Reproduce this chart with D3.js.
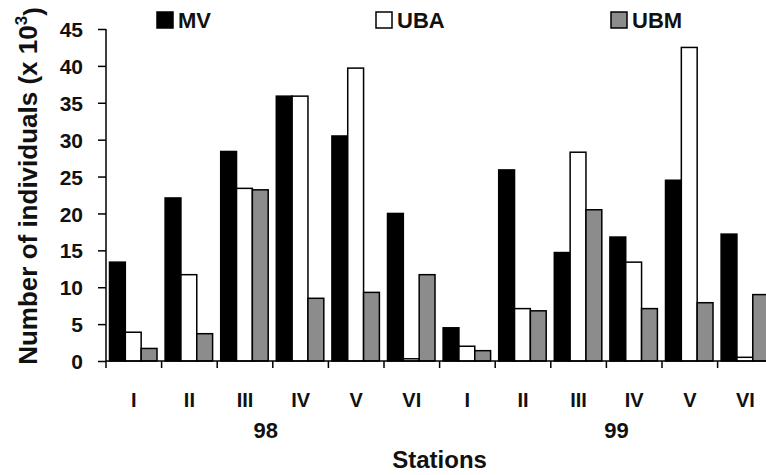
<!DOCTYPE html>
<html>
<head>
<meta charset="utf-8">
<script src="https://cdn.jsdelivr.net/npm/d3@7.9.0/dist/d3.min.js"></script>
<style>
  body { margin: 0; background: #fff; }
  svg { display: block; font-family: "Liberation Sans", Arial, sans-serif; font-weight: bold; }
</style>
</head>
<body>
<div id="chart"></div>
<script>
const stations = ['I', 'II', 'III', 'IV', 'V', 'VI'];
const years = ['98', '99'];
const series = ['MV', 'UBA', 'UBM'];
const mvValues = [13.4, 22.1, 28.4, 35.9, 30.5, 20.0, 4.5, 25.9, 14.7, 16.8, 24.5, 17.2];
const ubaValues = [3.9, 11.7, 23.4, 35.9, 39.7, 0.3, 2.0, 7.1, 28.3, 13.4, 42.5, 0.5];
const ubmValues = [1.7, 3.7, 23.2, 8.5, 9.3, 11.7, 1.4, 6.8, 20.5, 7.1, 7.9, 9.0];
const yTicks = [0, 5, 10, 15, 20, 25, 30, 35, 40, 45];

const colors = { MV: '#000', UBA: '#fff', UBM: '#8c8c8c' };

const width = 766;
const height = 475;

// one group per station and year
const groups = years.flatMap((yr) => stations.map((s) => ({ key: yr + '-' + s, station: s, year: yr })));
groups.forEach((g, i) => {
  g.MV = mvValues[i];
  g.UBA = ubaValues[i];
  g.UBM = ubmValues[i];
});

const svg = d3.select('#chart')
  .append('svg')
  .attr('width', width)
  .attr('height', height);

// the original figure is wider than the picture, right side is cut off
const xScale = d3.scaleBand()
  .domain(groups.map((d) => d.key))
  .range([106, 106 + 12 * 55.6])
  .padding(0);

const xInner = d3.scaleBand()
  .domain(series)
  .range([3.5, 51]);

const yScale = d3.scaleLinear().domain([0, 45]).range([361, 29]);

const bars = svg.append('g').attr('class', 'bars');
bars.selectAll('g')
  .data(groups)
  .join('g')
  .attr('transform', (d) => `translate(${xScale(d.key)},0)`)
  .selectAll('rect')
  .data((d) => series.map((s) => ({ series: s, value: d[s] })))
  .join('rect')
  .attr('x', (d) => xInner(d.series))
  .attr('width', xInner.bandwidth())
  .attr('y', (d) => yScale(d.value))
  .attr('height', (d) => yScale(0) - yScale(d.value))
  .attr('fill', (d) => colors[d.series])
  .attr('stroke', '#000')
  .attr('stroke-width', 1.5);

// y axis
const yAxis = svg.append('g')
  .attr('transform', `translate(${xScale.range()[0]},0)`)
  .call(d3.axisLeft(yScale).tickValues(yTicks).tickSize(8).tickPadding(15));
yAxis.select('.domain').attr('stroke-width', 1.5).attr('d', `M-0,${yScale(45)}V${yScale(0)}`);
yAxis.selectAll('.tick line').attr('stroke-width', 1.5);
yAxis.selectAll('.tick text')
  .style('font-size', '21px')
  .attr('fill', '#111')
  .attr('dy', '0.36em');

// x axis: ticks at group boundaries
const xAxisG = svg.append('g').attr('transform', `translate(0,${yScale(0)})`);
xAxisG.append('line')
  .attr('x1', xScale.range()[0])
  .attr('x2', xScale.range()[1])
  .attr('stroke', '#000')
  .attr('stroke-width', 1.5);
xAxisG.selectAll('.xtick')
  .data(groups)
  .join('line')
  .attr('class', 'xtick')
  .attr('x1', (d) => xScale(d.key))
  .attr('x2', (d) => xScale(d.key))
  .attr('y1', 0)
  .attr('y2', 7)
  .attr('stroke', '#000')
  .attr('stroke-width', 1.5);

svg.append('g')
  .selectAll('text')
  .data(groups)
  .join('text')
  .attr('x', (d) => xScale(d.key) + xScale.bandwidth() / 2)
  .attr('y', 407)
  .attr('text-anchor', 'middle')
  .style('font-size', '20px')
  .attr('fill', '#111')
  .text((d) => d.station);

// year labels
const yearPos = [xScale(groups[3].key) - 7, xScale(groups[9].key) + 10];
svg.append('g')
  .selectAll('text')
  .data(years)
  .join('text')
  .attr('x', (d, i) => yearPos[i])
  .attr('y', 438)
  .attr('text-anchor', 'middle')
  .style('font-size', '22px')
  .attr('fill', '#111')
  .text((d) => d);

svg.append('text')
  .attr('x', (xScale.range()[0] + xScale.range()[1]) / 2)
  .attr('y', 468)
  .attr('text-anchor', 'middle')
  .style('font-size', '24px')
  .attr('fill', '#111')
  .text('Stations');

// y title
const yTitle = svg.append('text')
  .attr('transform', 'translate(37,186) rotate(-90)')
  .attr('text-anchor', 'middle')
  .style('font-size', '26px')
  .attr('fill', '#111');
yTitle.append('tspan').text('Number of individuals (x 10');
yTitle.append('tspan').attr('dy', '-0.6em').style('font-size', '17px').text('3');
yTitle.append('tspan').attr('dy', '0.6em').text(')');

// legend
const legendX = [157, 376, 611];
const legend = svg.append('g')
  .selectAll('g')
  .data(series)
  .join('g')
  .attr('transform', (d, i) => `translate(${legendX[i]},12)`);
legend.append('rect')
  .attr('width', 16)
  .attr('height', 16)
  .attr('fill', (d) => colors[d])
  .attr('stroke', '#000')
  .attr('stroke-width', 1.5);
legend.append('text')
  .attr('x', 21)
  .attr('y', 16)
  .style('font-size', '22px')
  .attr('fill', '#111')
  .text((d) => d);
</script>
</body>
</html>
